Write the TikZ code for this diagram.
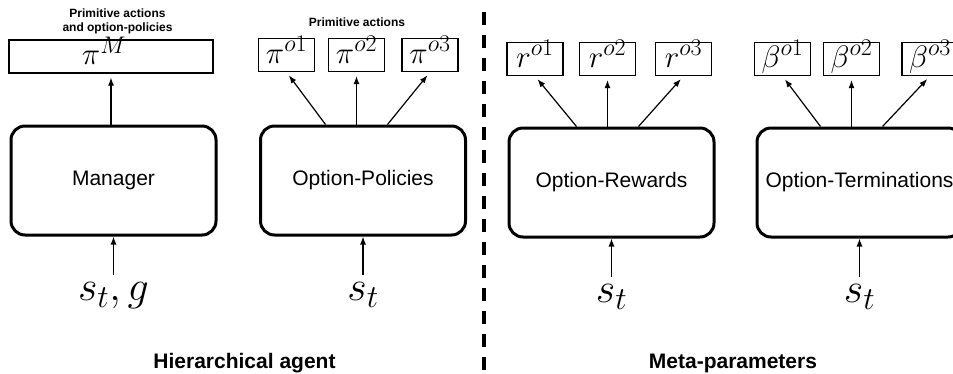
\documentclass[tikz,border=0pt]{standalone}
\usepackage{fix-cm}
\usepackage{fontspec}
\setsansfont{Liberation Sans}
\usetikzlibrary{positioning,calc,arrows.meta}
\DeclareMathSizes{31}{31}{24}{18}
\DeclareMathSizes{42}{42}{32}{24}

\tikzset{
  module/.style={draw,line width=3pt,rounded corners=14pt,minimum width=205pt,minimum height=109pt,
    font=\sffamily\fontsize{21}{25}\selectfont},
  outbox/.style={draw,line width=1.2pt,minimum width=56pt,minimum height=33pt,inner sep=0pt,
    text height=20pt,text depth=4pt,font=\fontsize{31}{36}\selectfont},
  inlabel/.style={inner sep=0pt,font=\fontsize{42}{48}\selectfont},
  heading/.style={align=center,font=\sffamily\bfseries\fontsize{12}{14}\selectfont},
  part/.style={font=\sffamily\bfseries\fontsize{21}{25}\selectfont},
  link/.style={line width=1.2pt,->,shorten >=4pt}
}

\begin{document}
\begin{tikzpicture}[x=1pt,y=-1pt,>={Latex[length=8pt,width=6pt]}]

	\useasboundingbox (0,0) rectangle (953,373);
	\clip (0,0) rectangle (953,373);

%The four modules
	\node[module] (mgr) at (113.5,180.5) {Manager};
	\node[module] (opol) at (363,180.5) {Option-Policies};
	\node[module] (orew) at (611.5,182.5) {Option-Rewards};
	\node[module] (oterm) at (859.5,182.5) {Option-Terminations};

%Outputs of the manager and of the option-policies
	\node[outbox,minimum width=204pt] (piM) at (111,56.5) {$\pi^M$\hspace*{14pt}};
	\node[outbox] (pi1) at (286.5,55) {$\pi^{o1}$};
	\node[outbox] (pi2) at (356.5,55) {$\pi^{o2}$};
	\node[outbox] (pi3) at (430,55) {$\pi^{o3}$};

%Outputs of the meta-parameters
	\node[outbox] (r1) at (535,59) {$r^{o1}$};
	\node[outbox] (r2) at (607.5,59) {$r^{o2}$};
	\node[outbox] (r3) at (683.5,59) {$r^{o3}$};
	\node[outbox] (b1) at (782.5,59) {$\beta^{o1}$};
	\node[outbox] (b2) at (851.5,59) {$\beta^{o2}$};
	\node[outbox] (b3) at (930,59) {$\beta^{o3}$};

%Inputs below each module
	\node[inlabel,below=46pt of mgr] (in1) {$s_t, g$};
	\node[inlabel,below=46pt of opol] (in2) {$s_t$};
	\node[inlabel,below=46pt of orew] (in3) {$s_t$};
	\node[inlabel,below=46pt of oterm] (in4) {$s_t$};

	\foreach \src/\dst in {in1/mgr,in2/opol,in3/orew,in4/oterm}
		\draw[line width=1.2pt,->,shorten <=8pt] (\src) -- (\dst);

%Arrows from the modules up to their outputs
	\draw[link] (mgr.north -| piM) -- (piM);
	\foreach \m/\a/\b/\c in {opol/pi1/pi2/pi3,orew/r1/r2/r3,oterm/b1/b2/b3}
		{
		\draw[link] ($(\m.north -| \b)+(-31,0)$) -- (\a.south);
		\draw[link] (\m.north -| \b) -- (\b);
		\draw[link] ($(\m.north -| \b)+(31,0)$) -- (\c.south);
		}

%Headings
	\node[heading] (hmgr) at (117.5,20.9) {Primitive actions\\and option-policies};
	\node[heading,anchor=base] (hpol) at (357,26.5) {Primitive actions};
	\node[part,anchor=base] (agent) at (244.5,368) {Hierarchical agent};
	\node[part,anchor=base] (meta) at (733,368) {Meta-parameters};

%Dashed separator
	\draw[line width=3.5pt,dash pattern=on 13pt off 10pt] (484,12) -- (484,373);

\end{tikzpicture}
\end{document}
